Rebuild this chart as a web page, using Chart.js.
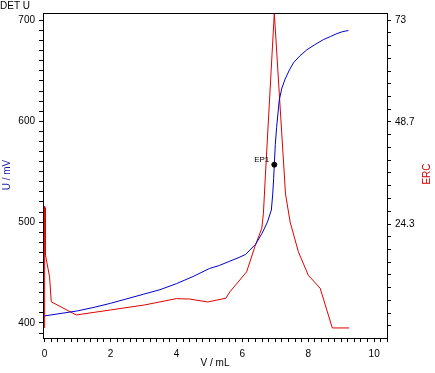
<!DOCTYPE html>
<html>
<head>
<meta charset="utf-8">
<script src="https://cdn.jsdelivr.net/npm/chart.js@4.4.1/dist/chart.umd.min.js"></script>
<style>
  html, body { margin: 0; padding: 0; background: #fff; }
  #wrap { width: 435px; height: 373px; }
</style>
</head>
<body>
<div id="wrap"><canvas id="c" width="435" height="373"></canvas></div>
<script>
// Potential curve (U / mV vs V / mL)
const volU = [0, 0.5, 1, 1.5, 2, 2.5, 3, 3.5, 4, 4.5, 5, 5.3, 5.6, 5.9, 6.1, 6.4, 6.6, 6.76, 6.88, 6.92, 6.95, 6.97, 7.0, 7.04, 7.12, 7.2, 7.3, 7.43, 7.55, 7.75, 7.96, 8.2, 8.46, 8.67, 8.87, 9.05, 9.22];
const potU = [407, 409.5, 412, 415.5, 419.5, 424, 428.5, 433, 439, 446, 454, 457, 461, 465, 468, 478, 489, 500, 512, 527, 543, 557, 577, 594, 621, 633, 642, 651, 658, 665, 671, 676, 681, 684, 687, 689, 690];

// ERC curve
const volErc = [0, 0, 0.02, 0.02, 0.03, 0.15, 0.2, 0.96, 2, 3.04, 4.0, 4.4, 4.95, 5.5, 5.62, 6.13, 6.38, 6.59, 6.64, 6.70, 6.97, 7.31, 7.45, 7.7, 8.0, 8.36, 8.73, 9.24];
const ercVal = [-0.5, 28.6, 17, 28.2, 16.9, 11.7, 5.75, 2.6, 3.8, 5.0, 6.5, 6.4, 5.7, 6.6, 8.1, 12.9, 18.9, 23.3, 26.9, 36, 74.7, 31.5, 24.8, 17.7, 12.1, 9.0, -0.5, -0.5];

// endpoint
const ep1 = { x: 6.97, y: 557, label: 'EP1' };

// labelled ticks
const xTickLabels = [0, 2, 4, 6, 8, 10];
const uTickLabels = [400, 500, 600, 700];
const ercTickLabels = [24.3, 48.7, 73];

const FONT = 'Liberation Sans';
Chart.defaults.font.family = FONT;
Chart.defaults.font.size = 10;
Chart.defaults.color = '#000';

function pts(xs, ys) { return xs.map((x, i) => ({ x: x, y: ys[i] })); }
function near(v, list) { return list.find(t => Math.abs(t - v) < 1e-6); }

// top border, titles and EP1 text
const decor = {
  id: 'decor',
  afterDraw(chart) {
    const { ctx, chartArea: a, scales } = chart;
    ctx.save();
    ctx.strokeStyle = '#000';
    ctx.lineWidth = 1;
    ctx.beginPath();
    ctx.moveTo(a.left, a.top + 0.5);
    ctx.lineTo(a.right + 1, a.top + 0.5);
    ctx.stroke();

    ctx.font = '10px "' + FONT + '"';
    ctx.fillStyle = '#000';
    ctx.textBaseline = 'middle';
    ctx.textAlign = 'left';
    ctx.fillText('DET U', 0, 6);
    ctx.textAlign = 'center';
    ctx.fillText('V / mL', (a.left + a.right) / 2, 363);

    ctx.save();
    ctx.translate(7, 175);
    ctx.rotate(-Math.PI / 2);
    ctx.fillStyle = '#1a1aa0';
    ctx.fillText('U / mV', 0, 0);
    ctx.restore();

    ctx.save();
    ctx.translate(427, 174);
    ctx.rotate(-Math.PI / 2);
    ctx.fillStyle = '#cc0000';
    ctx.fillText('ERC', 0, 0);
    ctx.restore();

    const px = scales.x.getPixelForValue(ep1.x);
    const py = scales.y.getPixelForValue(ep1.y);
    ctx.font = '8px "' + FONT + '"';
    ctx.fillStyle = '#000';
    ctx.textAlign = 'right';
    ctx.fillText(ep1.label, px - 5, py - 5);
    ctx.restore();
  }
};

const axisGrid = { drawOnChartArea: false, drawTicks: true, tickLength: 4, color: '#000' };
const axisBorder = { display: true, color: '#000', width: 1 };

new Chart(document.getElementById('c'), {
  type: 'scatter',
  data: {
    datasets: [
      {
        label: 'U',
        data: pts(volU, potU),
        yAxisID: 'y',
        showLine: true,
        borderColor: '#0000c8',
        borderWidth: 1,
        pointRadius: 0,
        tension: 0,
        order: 2
      },
      {
        label: 'ERC',
        data: pts(volErc, ercVal),
        yAxisID: 'y1',
        showLine: true,
        borderColor: '#e00000',
        borderWidth: 1,
        pointRadius: 0,
        tension: 0,
        order: 3
      },
      {
        label: 'EP1',
        data: [{ x: ep1.x, y: ep1.y }],
        yAxisID: 'y',
        showLine: false,
        pointRadius: 2.5,
        backgroundColor: '#000',
        borderColor: '#000',
        order: 1
      }
    ]
  },
  options: {
    responsive: false,
    animation: false,
    layout: { padding: { top: 13, left: 0, right: 0, bottom: 0 } },
    plugins: {
      legend: { display: false },
      title: { display: false },
      tooltip: { enabled: false }
    },
    scales: {
      x: {
        type: 'linear',
        min: -0.05,
        max: 10.39,
        border: axisBorder,
        grid: axisGrid,
        afterBuildTicks(s) {
          const t = [];
          for (let i = 0; i <= 52; i++) t.push({ value: +(i * 0.2).toFixed(2) });
          s.ticks = t;
        },
        afterFit(s) { s.height = 35; },
        ticks: {
          autoSkip: false,
          maxRotation: 0,
          padding: 6,
          callback: v => { const m = near(v, xTickLabels); return m === undefined ? '' : String(m); }
        }
      },
      y: {
        type: 'linear',
        position: 'left',
        min: 385.1,
        max: 707.4,
        border: axisBorder,
        grid: axisGrid,
        afterBuildTicks(s) {
          const t = [];
          for (let v = 390; v <= 700; v += 10) t.push({ value: v });
          s.ticks = t;
        },
        afterFit(s) { s.width = 43; },
        ticks: {
          autoSkip: false,
          padding: 4,
          callback: v => { const m = near(v, uTickLabels); return m === undefined ? '' : String(m); }
        }
      },
      y1: {
        type: 'linear',
        position: 'right',
        min: -2.9,
        max: 74.7,
        border: axisBorder,
        grid: axisGrid,
        afterBuildTicks(s) {
          const t = [];
          for (let k = 0; k <= 24; k++) {
            const v = 73 - k * 73 / 24;
            const m = ercTickLabels.find(l => Math.abs(l - v) < 0.05);
            t.push({ value: m !== undefined ? m : v });
          }
          s.ticks = t;
        },
        afterFit(s) { s.width = 48; },
        ticks: {
          autoSkip: false,
          padding: 4,
          callback: v => { const m = ercTickLabels.find(l => Math.abs(l - v) < 1e-6); return m === undefined ? '' : String(m); }
        }
      }
    }
  },
  plugins: [decor]
});
</script>
</body>
</html>
